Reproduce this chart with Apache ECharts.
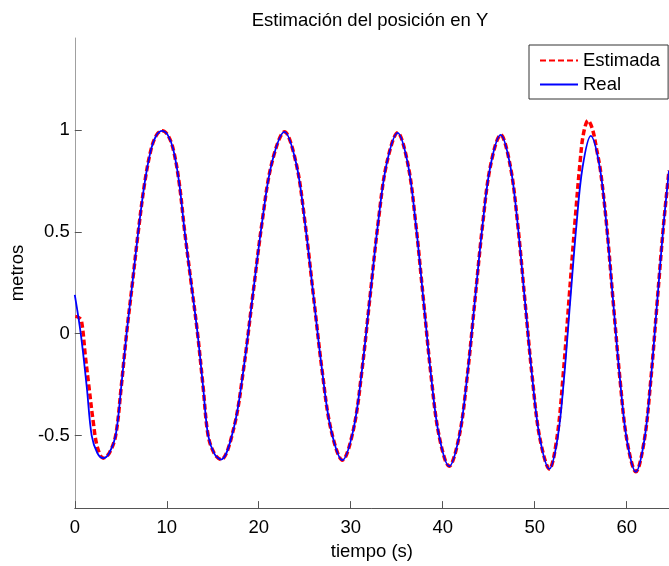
<!DOCTYPE html>
<html>
<head>
<meta charset="utf-8">
<script src="https://cdn.jsdelivr.net/npm/echarts@6/dist/echarts.min.js"></script>
<style>
  html, body { margin: 0; padding: 0; background: #fff; }
  #chart { width: 669px; height: 566px; }
</style>
</head>
<body>
<div id="chart"></div>
<script>
// Tick values
const xTicks = [0, 10, 20, 30, 40, 50, 60];
const yTicks = [-0.5, 0, 0.5, 1];

// Real position (s, m)
const tReal = [
  0, 0.65, 1.3, 1.84, 2.45, 3.1,
  3.75, 4.44, 5.05, 5.63, 6.27, 6.9, 7.6, 8.3, 8.9, 9.5,
  10.1, 10.7, 11.35, 11.95, 12.65, 13.35, 13.95, 14.5, 15.2, 15.9,
  17.28, 18.32, 19.35, 20.39, 21.42, 22.8,
  24.06, 25.0, 25.95, 26.9, 27.84, 29.1,
  30.3, 31.2, 32.1, 33.0, 33.9, 35.1,
  36.22, 37.06, 37.9, 38.74, 39.58, 40.7,
  41.82, 42.66, 43.5, 44.34, 45.18, 46.3,
  47.36, 48.16, 48.95, 49.75, 50.54, 51.6,
  52.5, 53.18, 53.85, 54.53, 55.2, 56.1,
  57.08, 57.82, 58.55, 59.29, 60.02, 61.0,
  61.92, 62.61, 63.3, 63.99, 64.6
];
const yReal = [
  0.19, 0.0, -0.26, -0.5, -0.585, -0.61,
  -0.585, -0.5, -0.26, 0.0, 0.25, 0.5, 0.74, 0.905, 0.975, 0.995,
  0.975, 0.905, 0.74, 0.5, 0.25, 0.0, -0.26, -0.5, -0.59, -0.617,
  -0.464, -0.183, 0.187, 0.556, 0.837, 0.99,
  0.837, 0.555, 0.185, -0.185, -0.467, -0.62,
  -0.468, -0.187, 0.183, 0.552, 0.833, 0.985,
  0.83, 0.544, 0.168, -0.209, -0.495, -0.65,
  -0.496, -0.211, 0.163, 0.536, 0.821, 0.975,
  0.819, 0.533, 0.156, -0.221, -0.507, -0.663,
  -0.508, -0.222, 0.154, 0.529, 0.815, 0.97,
  0.814, 0.525, 0.147, -0.232, -0.521, -0.677,
  -0.521, -0.232, 0.147, 0.525, 0.8
];

// Estimated position (s, m)
const tEst = [
  0.05, 0.4, 0.72, 1.15, 1.5, 2.0, 2.45, 3.1,
  3.75, 4.44, 5.05, 5.63, 6.27, 6.9, 7.6, 8.3, 8.9, 9.5,
  10.1, 10.7, 11.35, 11.95, 12.65, 13.35, 13.95, 14.5, 15.2, 15.9,
  17.28, 18.32, 19.35, 20.39, 21.42, 22.8,
  24.06, 25.0, 25.95, 26.9, 27.84, 29.1,
  30.3, 31.2, 32.1, 33.0, 33.9, 35.1,
  36.22, 37.06, 37.9, 38.74, 39.58, 40.7,
  41.82, 42.66, 43.5, 44.34, 45.18, 46.3,
  47.36, 48.16, 48.95, 49.75, 50.54, 51.6,
  52.45, 53.1, 53.75, 54.4, 54.95, 55.3, 55.8,
  56.3, 56.75, 57.15, 57.82, 58.55, 59.29, 60.02, 61.0,
  61.92, 62.61, 63.3, 63.99, 64.6
];
const yEst = [
  0.085, 0.08, 0.065, -0.11, -0.245, -0.43, -0.555, -0.61,
  -0.585, -0.5, -0.26, 0.0, 0.25, 0.5, 0.74, 0.905, 0.975, 0.995,
  0.975, 0.905, 0.74, 0.5, 0.25, 0.0, -0.26, -0.5, -0.59, -0.617,
  -0.464, -0.183, 0.187, 0.556, 0.837, 0.99,
  0.837, 0.555, 0.185, -0.185, -0.467, -0.62,
  -0.468, -0.187, 0.183, 0.552, 0.833, 0.985,
  0.83, 0.544, 0.168, -0.209, -0.495, -0.65,
  -0.496, -0.211, 0.163, 0.536, 0.821, 0.975,
  0.819, 0.533, 0.156, -0.221, -0.507, -0.663,
  -0.5, -0.2, 0.18, 0.56, 0.85, 0.98, 1.045,
  1.0, 0.9, 0.8, 0.53, 0.147, -0.232, -0.521, -0.677,
  -0.521, -0.232, 0.147, 0.525, 0.8
];

const pairs = (xs, ys) => xs.map((x, i) => [x, ys[i]]);

const FONT = 'Liberation Sans, Arial, sans-serif';
const FS = 18.5;

const chart = echarts.init(document.getElementById('chart'), null, { renderer: 'canvas' });
chart.setOption({
  animation: false,
  backgroundColor: '#ffffff',
  title: {
    text: 'Estimación del posición en Y',
    left: 370,
    top: 11,
    padding: 0,
    textAlign: 'center',
    textStyle: { fontFamily: FONT, fontSize: FS, fontWeight: 'normal', color: '#000' }
  },
  legend: {
    orient: 'vertical',
    left: 529,
    top: 45,
    padding: [6, 8, 5, 10],
    itemGap: 5,
    itemWidth: 38,
    itemHeight: 14,
    borderColor: '#333',
    borderWidth: 1,
    backgroundColor: '#fff',
    borderRadius: 0,
    itemStyle: { opacity: 0, borderWidth: 0 },
    textStyle: { fontFamily: FONT, fontSize: FS, color: '#000' },
    data: ['Estimada', 'Real']
  },
  grid: { left: 72, right: 0, top: 38, bottom: 54 },
  xAxis: {
    type: 'value',
    min: 0,
    max: 64.6,
    name: 'tiempo (s)',
    nameLocation: 'middle',
    nameGap: 29,
    nameTextStyle: { fontFamily: FONT, fontSize: FS, color: '#000' },
    axisLine: { show: true, onZero: false, lineStyle: { color: '#555', width: 1 } },
    axisTick: { show: true, inside: true, length: 7, lineStyle: { color: '#555' }, customValues: xTicks },
    axisLabel: { fontFamily: FONT, fontSize: FS, color: '#000', margin: 10, customValues: xTicks },
    splitLine: { show: false }
  },
  yAxis: {
    type: 'value',
    min: -0.855,
    max: 1.45,
    name: 'metros',
    nameLocation: 'middle',
    nameGap: 38,
    nameTextStyle: { fontFamily: FONT, fontSize: FS, color: '#000' },
    axisLine: { show: true, onZero: false, lineStyle: { color: '#a0a0a0', width: 1 } },
    axisTick: { show: true, inside: true, length: 7, lineStyle: { color: '#555' }, customValues: yTicks },
    axisLabel: { fontFamily: FONT, fontSize: FS, color: '#000', margin: 5, customValues: yTicks },
    splitLine: { show: false }
  },
  series: [
    {
      name: 'Estimada',
      type: 'line',
      data: pairs(tEst, yEst),
      showSymbol: false,
      symbol: 'none',
      smooth: 0.35,
      lineStyle: { color: '#ff0000', width: 3.5, type: [6, 3] },
      itemStyle: { color: '#ff0000' },
      z: 2
    },
    {
      name: 'Real',
      type: 'line',
      data: pairs(tReal, yReal),
      showSymbol: false,
      symbol: 'none',
      smooth: 0.35,
      lineStyle: { color: '#0000ff', width: 1.8 },
      itemStyle: { color: '#0000ff' },
      z: 3
    }
  ]
});
</script>
</body>
</html>
